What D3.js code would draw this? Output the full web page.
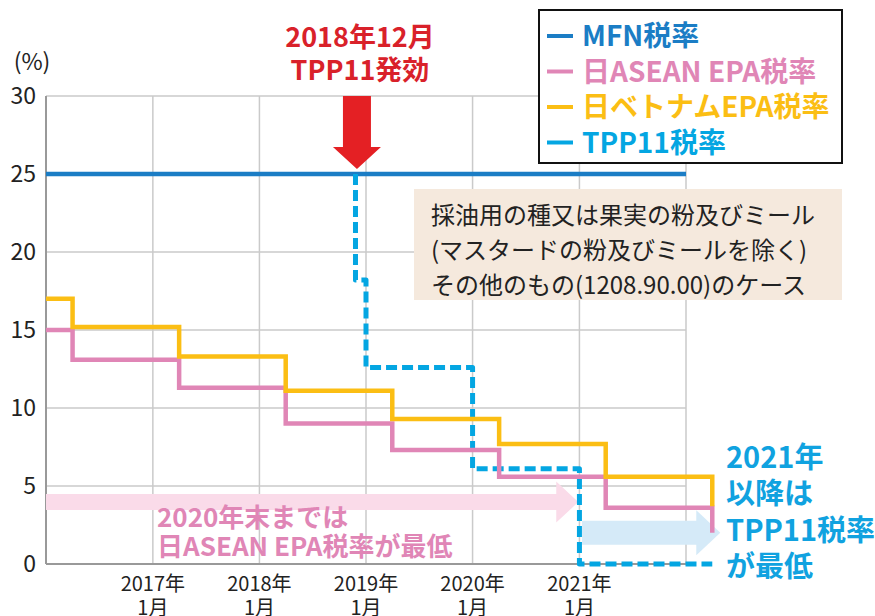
<!DOCTYPE html>
<html lang="ja">
<head>
<meta charset="UTF-8">
<title>TPP11 tariff chart</title>
<style>
  body { margin: 0; background: #fff; }
  svg { display: block; font-family: "Noto Sans CJK JP", "Noto Sans", sans-serif; }
</style>
</head>
<body>
<div id="chart"></div>
<script src="https://cdn.jsdelivr.net/npm/d3@7"></script>
<script>
// ---- data ----
var yTicks = [0, 5, 10, 15, 20, 25, 30];
var xTickYears = [2017, 2018, 2019, 2020, 2021];

var mfnDates = ["2016-01-01", "2022-01-01"];
var mfnValues = [25, 25];

var aseanDates = ["2016-01-01", "2016-04-01", "2017-04-01", "2018-04-01", "2019-04-01", "2020-04-01", "2021-04-01", "2022-04-01"];
var aseanValues = [15, 13.1, 11.3, 9.0, 7.3, 5.6, 3.6, 2.0];

var vietnamDates = ["2016-01-01", "2016-04-01", "2017-04-01", "2018-04-01", "2019-04-01", "2020-04-01", "2021-04-01", "2022-04-01"];
var vietnamValues = [17.0, 15.2, 13.3, 11.1, 9.3, 7.7, 5.6, 3.7];

var tppDates = ["2018-11-26", "2018-11-26", "2019-01-01", "2020-01-01", "2021-01-01", "2022-04-01"];
var tppValues = [25, 18.2, 12.6, 6.1, 0, 0];

var legendLabels = ["MFN税率", "日ASEAN EPA税率", "日ベトナムEPA税率", "TPP11税率"];
var colors = ["#1b7dc5", "#e086b6", "#fbbe14", "#04a6e2"];

var noteLines = ["採油用の種又は果実の粉及びミール", "(マスタードの粉及びミールを除く)", "その他のもの(1208.90.00)のケース"];
var redLines = ["2018年12月", "TPP11発効"];
var pinkLines = ["2020年末までは", "日ASEAN EPA税率が最低"];
var blueLines = ["2021年", "以降は", "TPP11税率", "が最低"];

// ---- setup ----
var W = 875, H = 616;
var svg = d3.select("#chart").append("svg").attr("width", W).attr("height", H);

var parse = d3.timeParse("%Y-%m-%d");
var x = d3.scaleTime().domain([parse("2016-01-01"), parse("2022-01-01")]).range([46, 686]);
var y = d3.scaleLinear().domain([0, 30]).range([564, 96]);

function toPts(dates, values) {
    return dates.map(function(d, i) { return {date: parse(d), v: values[i]}; });
}
var line = d3.line().x(function(d) { return x(d.date); }).y(function(d) { return y(d.v); }).curve(d3.curveStepAfter);

// gridlines
var grid = svg.append("g").attr("stroke", "#cacaca").attr("stroke-width", 1.5);
grid.selectAll("line.h").data(yTicks.filter(function(t) { return t > 0; })).enter().append("line")
    .attr("x1", x.range()[0]).attr("x2", x.range()[1])
    .attr("y1", function(d) { return y(d); }).attr("y2", function(d) { return y(d); });
grid.selectAll("line.v").data(xTickYears.concat([2022])).enter().append("line")
    .attr("x1", function(d) { return x(new Date(d, 0, 1)); }).attr("x2", function(d) { return x(new Date(d, 0, 1)); })
    .attr("y1", y(0)).attr("y2", y(30));

// axes lines
svg.append("line").attr("x1", x.range()[0]).attr("x2", x.range()[0]).attr("y1", y(0)).attr("y2", y(30))
    .attr("stroke", "#999").attr("stroke-width", 2);
svg.append("line").attr("x1", x.range()[0]).attr("x2", x.range()[1]).attr("y1", y(0)).attr("y2", y(0))
    .attr("stroke", "#999").attr("stroke-width", 2);

// y tick labels
svg.selectAll("text.ytick").data(yTicks).enter().append("text")
    .attr("x", 36).attr("y", function(d) { return y(d); }).attr("dy", "0.36em")
    .attr("text-anchor", "end").attr("font-size", 23).attr("fill", "#222")
    .text(function(d) { return d; });
svg.append("text").attr("x", 32).attr("y", 70).attr("text-anchor", "middle")
    .attr("font-size", 23).attr("fill", "#222").text("(%)");

// x tick labels
xTickYears.forEach(function(yr) {
    var t = svg.append("text").attr("text-anchor", "middle").attr("font-size", 20).attr("fill", "#222");
    t.append("tspan").attr("x", x(new Date(yr, 0, 1))).attr("y", 591).text(yr + "年");
    t.append("tspan").attr("x", x(new Date(yr, 0, 1))).attr("y", 615).text("1月");
});

// light annotation arrows
function arrow(x0, x1, cy, shaftHalf, headHalf, headLen, fill) {
    var pts = [[x0, cy - shaftHalf], [x1 - headLen, cy - shaftHalf], [x1 - headLen, cy - headHalf], [x1, cy],
               [x1 - headLen, cy + headHalf], [x1 - headLen, cy + shaftHalf], [x0, cy + shaftHalf]];
    svg.append("polygon").attr("points", pts.map(function(p) { return p.join(","); }).join(" ")).attr("fill", fill);
}
arrow(x(parse("2016-01-01")), x(parse("2020-12-28")), y(3.97), 8, 20.5, 22, "#fadbe9");
arrow(x(parse("2021-01-10")), x(parse("2022-04-01")) + 8, y(2.0), 12, 22.5, 24, "#d5eaf8");

// series lines
svg.append("path").attr("d", line(toPts(mfnDates, mfnValues)))
    .attr("fill", "none").attr("stroke", colors[0]).attr("stroke-width", 4.5);
svg.append("path").attr("d", line(toPts(tppDates, tppValues)))
    .attr("fill", "none").attr("stroke", colors[3]).attr("stroke-width", 5)
    .attr("stroke-dasharray", "11,5").attr("stroke-linejoin", "round");
svg.append("path").attr("d", line(toPts(aseanDates, aseanValues)))
    .attr("fill", "none").attr("stroke", colors[1]).attr("stroke-width", 4.5);
svg.append("path").attr("d", line(toPts(vietnamDates, vietnamValues)))
    .attr("fill", "none").attr("stroke", colors[2]).attr("stroke-width", 4.5);

// red arrow for TPP11 entry into force
var ax = x(parse("2018-12-01")), aTop = y(30), aTip = y(25) - 5;
svg.append("polygon").attr("fill", "#e42024").attr("points", [
    [ax - 14, aTop], [ax + 14, aTop], [ax + 14, aTip - 22], [ax + 24, aTip - 22],
    [ax, aTip], [ax - 24, aTip - 22], [ax - 14, aTip - 22]].map(function(p) { return p.join(","); }).join(" "));
var rt = svg.append("text").attr("text-anchor", "middle").attr("font-size", 27).attr("font-weight", "bold").attr("fill", "#d9212a");
redLines.forEach(function(s, i) { rt.append("tspan").attr("x", 360).attr("y", 47 + i * 33).text(s); });

// legend
svg.append("rect").attr("x", 539).attr("y", 10).attr("width", 303).attr("height", 153)
    .attr("fill", "#fff").attr("stroke", "#111").attr("stroke-width", 2);
legendLabels.forEach(function(s, i) {
    var cy = 36 + i * 35.5;
    svg.append("line").attr("x1", 547).attr("x2", 573).attr("y1", cy).attr("y2", cy)
        .attr("stroke", colors[i]).attr("stroke-width", 4);
    svg.append("text").attr("x", 582).attr("y", cy + 10).attr("font-size", 28).attr("font-weight", "bold")
        .attr("fill", colors[i]).text(s);
});

// note box
svg.append("rect").attr("x", 414).attr("y", 189).attr("width", 428).attr("height", 111).attr("fill", "#f5e9dd");
noteLines.forEach(function(s, i) {
    svg.append("text").attr("x", 431).attr("y", 224 + i * 35).attr("font-size", 24).attr("fill", "#222").text(s);
});

// pink and blue annotation text
var pt = svg.append("text").attr("font-size", 26).attr("font-weight", "bold").attr("fill", "#e086b6");
pinkLines.forEach(function(s, i) { pt.append("tspan").attr("x", 157).attr("y", 527 + i * 29).text(s); });
var bt = svg.append("text").attr("font-size", 29).attr("font-weight", "bold").attr("fill", "#10a2e0");
blueLines.forEach(function(s, i) { bt.append("tspan").attr("x", 726).attr("y", 468 + i * 36.3).text(s); });
</script>
</body>
</html>
